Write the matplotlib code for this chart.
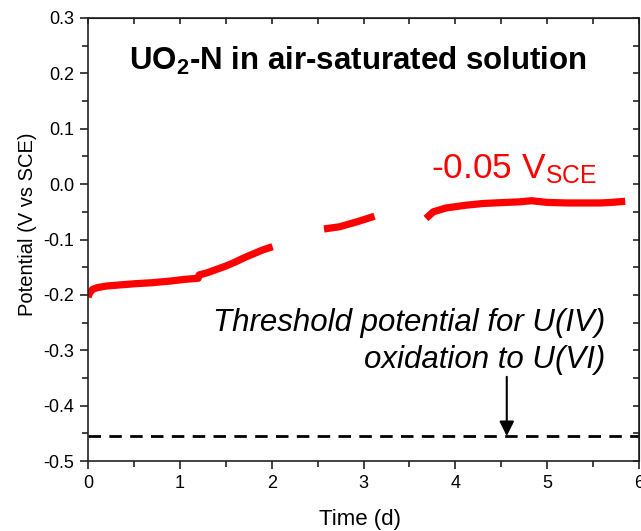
import numpy as np
import matplotlib
matplotlib.use("Agg")
import matplotlib.pyplot as plt
from matplotlib.ticker import MultipleLocator

plt.rcParams['font.family'] = ['Liberation Sans', 'DejaVu Sans']
plt.rcParams['mathtext.fontset'] = 'custom'
plt.rcParams['mathtext.rm'] = 'Liberation Sans'
plt.rcParams['mathtext.it'] = 'Liberation Sans:italic'
plt.rcParams['mathtext.bf'] = 'Liberation Sans:bold'

# Potential vs time, three measured segments (d, V vs SCE)
seg1_t = [0.0, 0.02, 0.05, 0.1, 0.2, 0.35, 0.5, 0.7, 0.9, 1.05, 1.2, 1.21, 1.3, 1.4,
          1.5, 1.6, 1.7, 1.8, 1.9, 2.01]
seg1_v = [-0.204, -0.196, -0.190, -0.187, -0.184, -0.182, -0.180, -0.178, -0.175,
          -0.172, -0.170, -0.164, -0.160, -0.154, -0.148, -0.141, -0.133, -0.126,
          -0.119, -0.113]
seg2_t = [2.57, 2.74, 2.93, 3.12]
seg2_v = [-0.081, -0.077, -0.068, -0.058]
seg3_t = [3.68, 3.76, 3.9, 4.12, 4.3, 4.49, 4.7, 4.83, 5.0, 5.21, 5.4, 5.58, 5.7, 5.85]
seg3_v = [-0.062, -0.050, -0.043, -0.038, -0.035, -0.0335, -0.032, -0.030, -0.033,
          -0.034, -0.034, -0.034, -0.033, -0.031]

threshold = -0.455
arrow_t = 4.56
arrow_start = -0.348

xlim = (0, 6)
ylim = (-0.5, 0.3)

fig = plt.figure(figsize=(6.41, 5.31), dpi=100)
ax = fig.add_axes([88/641, 70/531, 551/641, 443/531])

for t, v in [(seg1_t, seg1_v), (seg2_t, seg2_v), (seg3_t, seg3_v)]:
    ax.plot(t, v, color='#ff0000', lw=5.2, solid_capstyle='butt')

ax.axhline(threshold, color='black', lw=2, dashes=(4.5, 3))
ax.annotate('', xy=(arrow_t, threshold), xytext=(arrow_t, arrow_start),
            arrowprops=dict(arrowstyle='-|>', color='black', lw=1.5,
                            mutation_scale=22, shrinkA=0, shrinkB=0))

ax.set_xlim(*xlim)
ax.set_ylim(*ylim)
ax.xaxis.set_major_locator(MultipleLocator(1))
ax.xaxis.set_minor_locator(MultipleLocator(0.5))
ax.yaxis.set_major_locator(MultipleLocator(0.1))
ax.yaxis.set_minor_locator(MultipleLocator(0.05))
ax.yaxis.set_major_formatter(matplotlib.ticker.FormatStrFormatter('%.1f'))

for s in ax.spines.values():
    s.set_linewidth(1.2)
    s.set_color('#222222')
ax.tick_params(which='both', direction='out', width=1.2, color='#222222',
               labelsize=13, pad=4)
ax.tick_params(which='major', length=6)
ax.tick_params(which='minor', length=4)

axt = ax.secondary_xaxis('top')
axt.xaxis.set_major_locator(MultipleLocator(1))
axt.xaxis.set_minor_locator(MultipleLocator(0.5))
axt.tick_params(which='both', direction='in', length=4, width=1.2, color='#222222',
                labeltop=False)
axr = ax.secondary_yaxis('right')
axr.yaxis.set_major_locator(MultipleLocator(0.1))
axr.yaxis.set_minor_locator(MultipleLocator(0.05))
axr.tick_params(which='both', direction='in', length=4, width=1.2, color='#222222',
                labelright=False)

ax.set_xlabel('Time (d)', fontsize=16)
ax.xaxis.set_label_coords(0.493, -0.108)
ax.set_ylabel('Potential (V vs SCE)', fontsize=14.5)
ax.yaxis.set_label_coords(-0.092, 0.535)

ax.text(2.94, 0.222, r'UO$_\mathbf{2}$-N in air-saturated solution', fontsize=22.5,
        fontweight='bold', ha='center', va='center')
ax.text(3.73, 0.011, r'-0.05 V$_{\mathrm{SCE}}$', fontsize=25.5, color='#ff0000',
        ha='left', va='baseline')
ax.text(5.63, -0.285, 'Threshold potential for U(IV)\noxidation to U(VI)',
        fontsize=22.5, fontstyle='italic', ha='right', va='center',
        multialignment='right', linespacing=1.3)

fig.savefig('out.png', dpi=100)
